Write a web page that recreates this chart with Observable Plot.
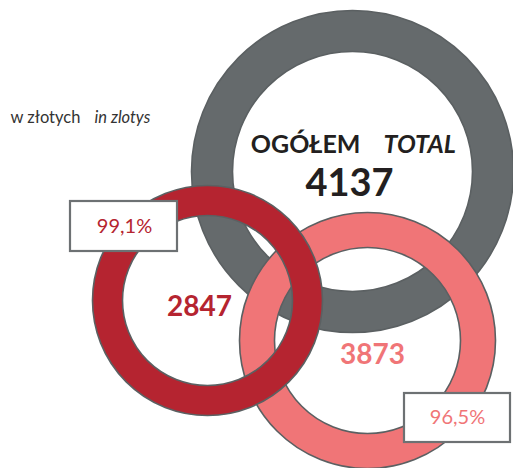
<!DOCTYPE html>
<html>
<head>
<meta charset="utf-8">
<script src="https://cdn.jsdelivr.net/npm/d3@7"></script>
<script src="https://cdn.jsdelivr.net/npm/@observablehq/plot@0.6"></script>
<style>
  html, body { margin: 0; padding: 0; background: #fff; }
  #chart svg { display: block; }
</style>
</head>
<body>
<div id="chart"></div>
<script>
// ---- data ----
const ringKeys = ["total", "first", "second"];
const ringValues = [4137, 2847, 3873];
const ringChange = [null, "99,1%", "96,5%"];
const totalLabelPl = "OGÓŁEM";
const totalLabelEn = "TOTAL";
const unitPl = "w złotych";
const unitEn = "in zlotys";

// ---- layout (pixels) & styles ----
const W = 513, H = 468;
const font = "Lato, 'Open Sans', sans-serif";
const layout = {
  total:  {cx: 352, cy: 171, R: 161, r: 120, color: "#656a6c", text: "#231f20", vx: 349, vy: 195, vsize: 38},
  first:  {cx: 207, cy: 300, R: 115, r: 85,  color: "#b52430", text: "#b52430", vx: 199, vy: 315, vsize: 28,
           box: {x1: 70, x2: 177, y1: 201, y2: 251, tx: 124, ty: 232}},
  second: {cx: 367, cy: 340, R: 128, r: 93,  color: "#f07577", text: "#f07577", vx: 372, vy: 363, vsize: 28,
           box: {x1: 404, x2: 510, y1: 393, y2: 442, tx: 457, ty: 423}}
};
const outline = "#5b6062";
const drawOrder = ["total", "second", "first"];

const rows = ringKeys.map((k, i) => ({key: k, value: ringValues[i], change: ringChange[i], ...layout[k]}));
const byKey = Object.fromEntries(rows.map(d => [d.key, d]));

const marks = [];
for (const k of drawOrder) {
  const d = [byKey[k]];
  marks.push(Plot.dot(d, {x: "cx", y: "cy", r: v => (v.R + v.r) / 2, stroke: "color", strokeWidth: v => v.R - v.r, fill: "none"}));
  marks.push(Plot.dot(d, {x: "cx", y: "cy", r: "R", stroke: outline, strokeWidth: 1.6, fill: "none"}));
  marks.push(Plot.dot(d, {x: "cx", y: "cy", r: "r", stroke: outline, strokeWidth: 1.6, fill: "none"}));
}

const boxed = rows.filter(d => d.change);
marks.push(Plot.rect(boxed, {x1: d => d.box.x1, x2: d => d.box.x2, y1: d => d.box.y1, y2: d => d.box.y2, fill: "white", stroke: "#6d7173", strokeWidth: 2.2}));
marks.push(Plot.text(boxed, {x: d => d.box.tx, y: d => d.box.ty, text: "change", fill: "text", fontSize: 20, fontFamily: font, lineAnchor: "bottom", textAnchor: "middle"}));

// values
marks.push(Plot.text(rows, {x: "vx", y: "vy", text: d => String(d.value), fill: "text", fontSize: d => d.vsize, fontWeight: "bold", fontFamily: font, lineAnchor: "bottom", textAnchor: "middle"}));

// total label
marks.push(Plot.text([totalLabelPl], {x: 360, y: 152, text: d => d, fill: "#231f20", fontSize: 25, fontWeight: "bold", fontFamily: font, lineAnchor: "bottom", textAnchor: "end"}));
marks.push(Plot.text([totalLabelEn], {x: 383, y: 152, text: d => d, fill: "#231f20", fontSize: 25, fontWeight: "bold", fontStyle: "italic", fontFamily: font, lineAnchor: "bottom", textAnchor: "start"}));

// unit label
marks.push(Plot.text([unitPl], {x: 10, y: 122, text: d => d, fill: "#333", fontSize: 16.5, fontFamily: font, lineAnchor: "bottom", textAnchor: "start"}));
marks.push(Plot.text([unitEn], {x: 94, y: 122, text: d => d, fill: "#333", fontSize: 16.5, fontStyle: "italic", fontFamily: font, lineAnchor: "bottom", textAnchor: "start"}));

const chart = Plot.plot({
  width: W, height: H,
  margin: 0,
  x: {type: "identity", axis: null},
  y: {type: "identity", axis: null},
  color: {type: "identity"},
  r: {type: "identity"},
  style: {background: "white"},
  marks
});
document.getElementById("chart").append(chart);
</script>
</body>
</html>
